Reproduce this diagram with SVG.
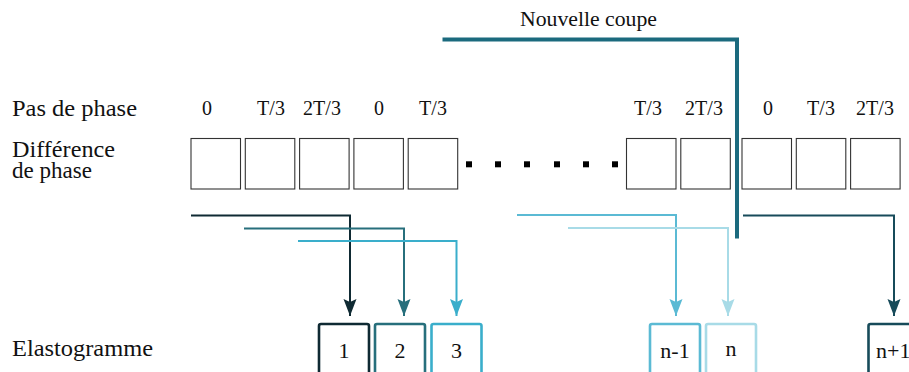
<svg xmlns="http://www.w3.org/2000/svg" width="909" height="372" viewBox="0 0 909 372" font-family="'Liberation Serif', 'DejaVu Serif', serif">
<style>
text{font-family:"Liberation Serif","DejaVu Serif",serif;fill:#111;}
.lbl{font-size:23px;}
.ph{font-size:20px;text-anchor:middle;}
.num{font-size:22px;text-anchor:middle;}
.cell{fill:#fff;stroke:#333;stroke-width:1.1;}
.dot{fill:#000;}
.el{fill:#fff;stroke-width:2.6;}
.con{fill:none;stroke-width:2;}
</style>
<defs>
<marker id="a1" viewBox="-8 -19 16 20" refX="0" refY="0" markerWidth="16" markerHeight="20" markerUnits="userSpaceOnUse"><path d="M0,0 L-6.5,-17 L0,-14 L6.5,-17 Z" fill="#0f2a33"/></marker>
<marker id="a2" viewBox="-8 -19 16 20" refX="0" refY="0" markerWidth="16" markerHeight="20" markerUnits="userSpaceOnUse"><path d="M0,0 L-6.5,-17 L0,-14 L6.5,-17 Z" fill="#276f7c"/></marker>
<marker id="a3" viewBox="-8 -19 16 20" refX="0" refY="0" markerWidth="16" markerHeight="20" markerUnits="userSpaceOnUse"><path d="M0,0 L-6.5,-17 L0,-14 L6.5,-17 Z" fill="#3aaecb"/></marker>
<marker id="a4" viewBox="-8 -19 16 20" refX="0" refY="0" markerWidth="16" markerHeight="20" markerUnits="userSpaceOnUse"><path d="M0,0 L-6.5,-17 L0,-14 L6.5,-17 Z" fill="#5bbad4"/></marker>
<marker id="a5" viewBox="-8 -19 16 20" refX="0" refY="0" markerWidth="16" markerHeight="20" markerUnits="userSpaceOnUse"><path d="M0,0 L-6.5,-17 L0,-14 L6.5,-17 Z" fill="#a8dbe7"/></marker>
<marker id="a6" viewBox="-8 -19 16 20" refX="0" refY="0" markerWidth="16" markerHeight="20" markerUnits="userSpaceOnUse"><path d="M0,0 L-6.5,-17 L0,-14 L6.5,-17 Z" fill="#174b5a"/></marker>
</defs>

<g id="labels">
<text class="lbl" x="12" y="116" textLength="125" lengthAdjust="spacingAndGlyphs">Pas de phase</text>
<text class="lbl" x="12" y="157" textLength="103" lengthAdjust="spacingAndGlyphs">Différence</text>
<text class="lbl" x="12" y="178" textLength="80" lengthAdjust="spacingAndGlyphs">de phase</text>
<text class="lbl" x="12" y="356" textLength="141" lengthAdjust="spacingAndGlyphs">Elastogramme</text>
</g>

<g id="phase-steps">
<text class="ph" x="207" y="115">0</text>
<text class="ph" x="271" y="115">T/3</text>
<text class="ph" x="322" y="115">2T/3</text>
<text class="ph" x="379" y="115">0</text>
<text class="ph" x="433" y="115">T/3</text>
<text class="ph" x="648" y="115">T/3</text>
<text class="ph" x="704" y="115">2T/3</text>
<text class="ph" x="768" y="115">0</text>
<text class="ph" x="821" y="115">T/3</text>
<text class="ph" x="875" y="115">2T/3</text>
</g>

<g id="phase-cells">
<rect class="cell" x="191" y="138.5" width="49.5" height="50.5"/>
<rect class="cell" x="245.3" y="138.5" width="49.5" height="50.5"/>
<rect class="cell" x="299.6" y="138.5" width="49.5" height="50.5"/>
<rect class="cell" x="353.9" y="138.5" width="49.5" height="50.5"/>
<rect class="cell" x="408.2" y="138.5" width="49.5" height="50.5"/>
<rect class="dot" x="466" y="161.3" width="6" height="6"/>
<rect class="dot" x="495" y="161.3" width="6" height="6"/>
<rect class="dot" x="524" y="161.3" width="6" height="6"/>
<rect class="dot" x="554" y="161.3" width="6" height="6"/>
<rect class="dot" x="583" y="161.3" width="6" height="6"/>
<rect class="dot" x="612" y="161.3" width="6" height="6"/>
<rect class="cell" x="626.5" y="138.5" width="49.5" height="50.5"/>
<rect class="cell" x="680.8" y="138.5" width="49.5" height="50.5"/>
<rect class="cell" x="742" y="138.5" width="49.5" height="50.5"/>
<rect class="cell" x="796.3" y="138.5" width="49.5" height="50.5"/>
<rect class="cell" x="850.6" y="138.5" width="49.5" height="50.5"/>
</g>

<g id="nouvelle-coupe">
<text class="lbl" x="520" y="26" style="font-size:22px" textLength="137" lengthAdjust="spacingAndGlyphs">Nouvelle coupe</text>
<path d="M442.5,39.5 H737 V238.5" fill="none" stroke="#1b6a7e" stroke-width="4"/>
</g>

<g id="connectors">
<path class="con" stroke="#0f2a33" d="M191,215.5 H350 V316" marker-end="url(#a1)"/>
<path class="con" stroke="#276f7c" d="M244,228.5 H404 V316" marker-end="url(#a2)"/>
<path class="con" stroke="#3aaecb" d="M298,241 H456.5 V316" marker-end="url(#a3)"/>
<path class="con" stroke="#5bbad4" d="M517,215 H676 V316" marker-end="url(#a4)"/>
<path class="con" stroke="#a8dbe7" d="M568,228 H728 V316" marker-end="url(#a5)"/>
<path class="con" stroke="#174b5a" d="M743,215.5 H894 V316" marker-end="url(#a6)"/>
</g>

<g id="el-1"><rect class="el" stroke="#0f2a33" x="319" y="324" width="50" height="60" rx="2"/><text class="num" x="344" y="358">1</text></g>
<g id="el-2"><rect class="el" stroke="#276f7c" x="375" y="324" width="50" height="60" rx="2"/><text class="num" x="400" y="358">2</text></g>
<g id="el-3"><rect class="el" stroke="#3aaecb" x="431.5" y="324" width="50" height="60" rx="2"/><text class="num" x="456.5" y="358">3</text></g>
<g id="el-n-1"><rect class="el" stroke="#5bbad4" x="650" y="324" width="50" height="60" rx="2"/><text class="num" x="675" y="358">n-1</text></g>
<g id="el-n"><rect class="el" stroke="#a8dbe7" x="706" y="324" width="50" height="60" rx="2"/><text class="num" x="731" y="356">n</text></g>
<g id="el-n+1"><rect class="el" stroke="#174b5a" x="868.5" y="324" width="50" height="60" rx="2"/><text class="num" x="876" y="358" style="text-anchor:start">n+1</text></g>
</svg>
